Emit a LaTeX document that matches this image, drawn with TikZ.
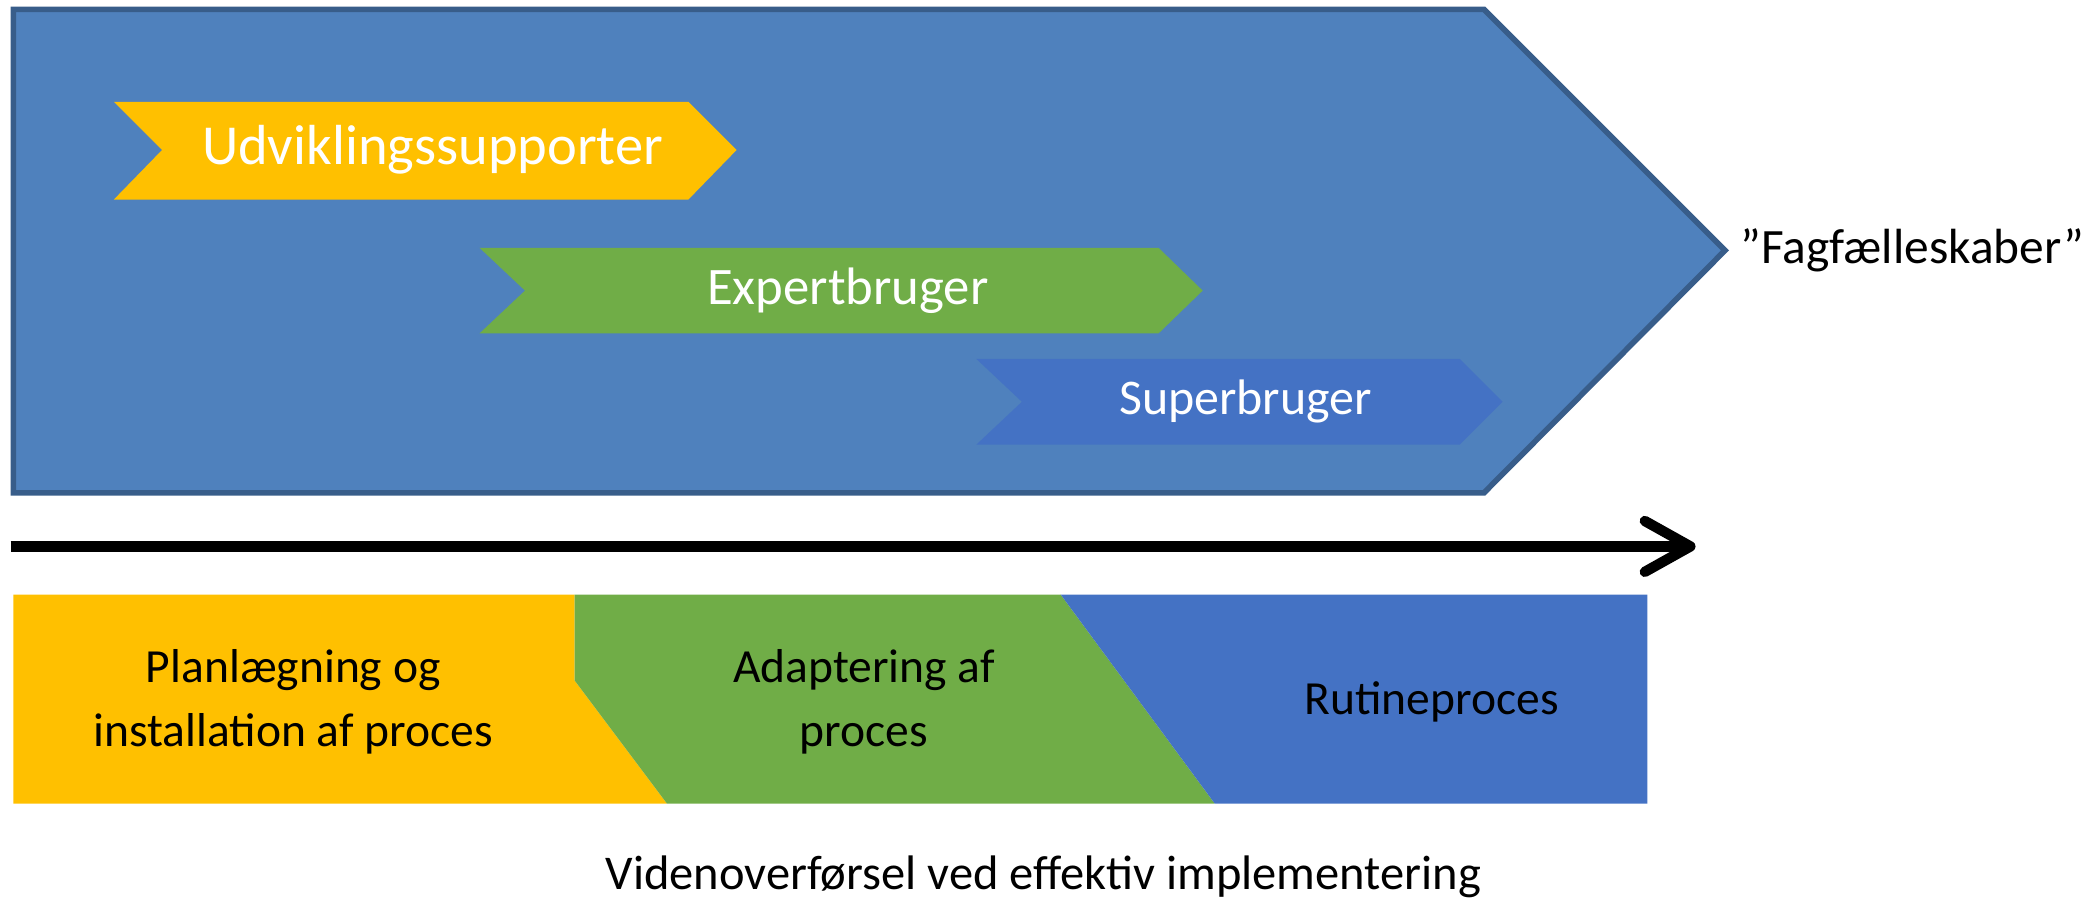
\documentclass[tikz,border=0pt]{standalone}
\usepackage{fontspec}
\setmainfont{Carlito}
\usetikzlibrary{arrows.meta}

\definecolor{bigblue}{HTML}{4F81BD}
\definecolor{bigline}{HTML}{385D8A}
\definecolor{phaseyellow}{HTML}{FFC000}
\definecolor{phasegreen}{HTML}{70AD47}
\definecolor{phaseblue}{HTML}{4472C4}

\tikzset{
    rolelabel/.style={text=white, inner sep=0pt},
    phaselabel/.style={text=black, align=center, inner sep=0pt},
}

\begin{document}
\begin{tikzpicture}[x=0.1mm, y=-0.1mm]
            \useasboundingbox (0,0) rectangle (1568,670);

            % big arrow with the roles
            \filldraw[fill=bigblue, draw=bigline, line width=1.2pt, line join=miter, smooth cycle, tension=0]
                plot coordinates {(10,7) (1108,7) (1288,187) (1108,368) (10,368)};
            \node[anchor=west, inner sep=0pt, font=\fontsize{10.5}{12}\selectfont] (fag) at (1299,187) {”Fagfælleskaber”};

            \fill[phaseyellow, smooth cycle, tension=0]
                plot coordinates {(85,76) (514,76) (550,112) (514,149) (85,149) (121,112)};
            \node[rolelabel, font=\fontsize{12}{14}\selectfont] (udv) at (323,112) {Udviklingssupporter};

            \fill[phasegreen, smooth cycle, tension=0]
                plot coordinates {(358,185) (865,185) (898,217) (865,249) (358,249) (392,217)};
            \node[rolelabel, font=\fontsize{11.2}{13}\selectfont] (exp) at (633,217) {Expertbruger};

            \fill[phaseblue, smooth cycle, tension=0]
                plot coordinates {(729,268) (1090,268) (1122,300) (1090,332) (729,332) (763,300)};
            \node[rolelabel, font=\fontsize{10.6}{13}\selectfont] (sup) at (930,300) {Superbruger};

            % time arrow
            \coordinate (tstart) at (8,408);
            \coordinate (tend) at (1266,408);
            \draw[line width=2.2pt, -{Straight Barb[round, length=3.4mm, width=3.8mm]}] (tstart) -- (tend);

            % phases
            \fill[phaseyellow, smooth cycle, tension=0]
                plot coordinates {(10,444) (429,444) (429,508) (498,600) (10,600)};
            \fill[phasegreen, smooth cycle, tension=0]
                plot coordinates {(429,444) (792,444) (907,600) (498,600) (429,508)};
            \fill[phaseblue, smooth cycle, tension=0]
                plot coordinates {(792,444) (1230,444) (1230,600) (907,600)};

            \node[phaselabel, font=\fontsize{10.1}{13.6}\selectfont] (plan) at (219,524) {Planlægning og\\installation af proces};
            \node[phaselabel, font=\fontsize{10.1}{13.6}\selectfont] (adapt) at (645,524) {Adaptering af\\proces};
            \node[phaselabel, font=\fontsize{10.1}{13.6}\selectfont] (rutine) at (1069,524) {Rutineproces};

            \node[phaselabel, font=\fontsize{10.3}{13}\selectfont] (viden) at (779,655) {Videnoverførsel ved effektiv implementering};
        \end{tikzpicture}
\end{document}
